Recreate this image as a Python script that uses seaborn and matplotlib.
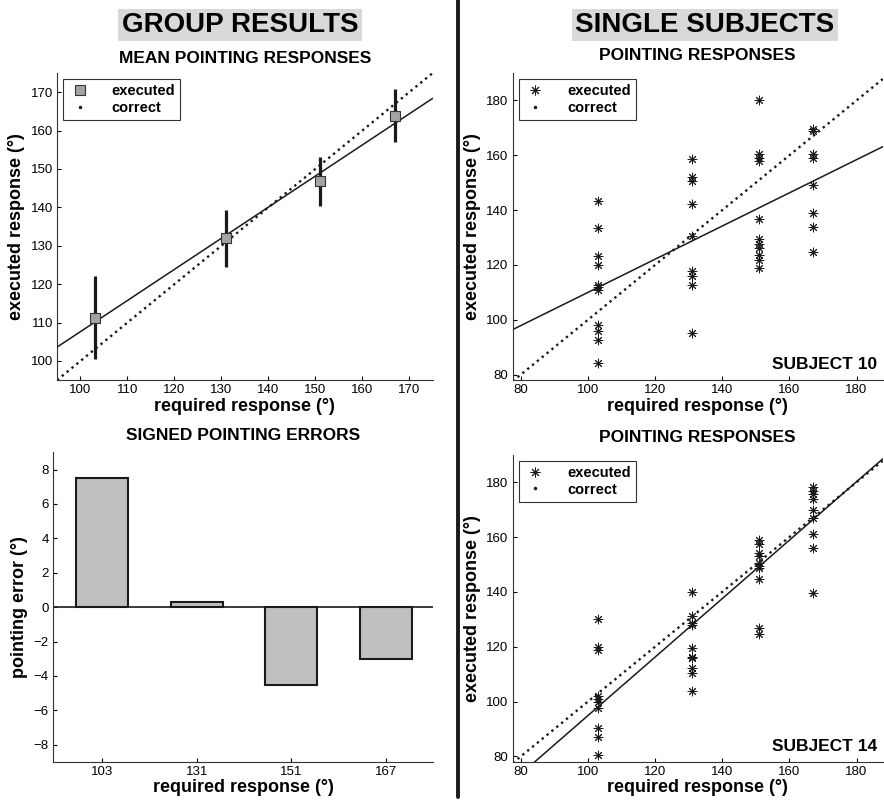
import numpy as np
import pandas as pd
import matplotlib
matplotlib.use('Agg')
import matplotlib.pyplot as plt
from matplotlib.lines import Line2D
import seaborn as sns

# required pointing directions (deg)
required = [103, 131, 151, 167]

# group results: mean executed response and spread
group_mean = [111.2, 131.9, 146.8, 163.9]
group_low = [100.5, 124.4, 140.4, 157.0]
group_high = [122.1, 139.4, 153.0, 170.8]
group_slope, group_icpt = 0.81, 26.65

# signed pointing errors (deg)
signed_error = [7.5, 0.3, -4.5, -3.0]

# single subjects, executed responses at each required direction
subj10_resp = [
    [143.2, 133.3, 123.2, 120.1, 112.8, 112.0, 111.0, 98.2, 95.8, 92.8, 84.3],
    [158.8, 152.0, 150.5, 142.3, 130.5, 117.7, 116.1, 112.8, 95.2],
    [180.0, 160.3, 159.1, 157.8, 136.6, 129.3, 127.8, 126.2, 123.8, 121.7, 118.9],
    [169.7, 168.8, 160.3, 159.1, 149.3, 138.8, 133.9, 124.8],
]
subj10_slope, subj10_icpt = 0.605, 49.5

subj14_resp = [
    [130.2, 119.9, 118.9, 102.2, 101.0, 100.0, 97.6, 90.3, 86.9, 80.6],
    [140.1, 131.3, 128.6, 128.0, 119.5, 116.4, 115.8, 112.2, 110.4, 104.0],
    [158.9, 157.5, 154.1, 152.9, 150.7, 149.5, 148.6, 144.6, 126.8, 124.6],
    [178.4, 176.9, 175.7, 173.9, 169.9, 166.8, 161.0, 156.1, 139.7],
]
subj14_slope, subj14_icpt = 1.066, -11.7

sns.set_theme(style='ticks')
plt.rcParams['font.family'] = ['Liberation Sans', 'DejaVu Sans']
plt.rcParams['axes.edgecolor'] = '#333333'
plt.rcParams['axes.linewidth'] = 0.8
for key in ['text.color', 'axes.labelcolor', 'xtick.color', 'ytick.color']:
    plt.rcParams[key] = 'black'

LABEL = dict(fontsize=13, fontweight='bold')
TITLE = dict(fontsize=12.5, fontweight='bold')


def style_axes(ax):
    sns.despine(ax=ax)
    ax.tick_params(direction='in', length=3, width=0.8, labelsize=9.5, pad=3)


def legend_box(ax, handles, labels):
    leg = ax.legend(handles, labels, loc='upper left', frameon=True, fancybox=False,
                    framealpha=1, edgecolor='#333333', borderaxespad=0.4,
                    handlelength=1.6, handletextpad=1.4, borderpad=0.35,
                    labelspacing=0.2, prop=dict(size=10.5, weight='bold'))
    leg.get_frame().set_linewidth(0.8)


def subject_panel(ax, resp, slope, icpt, name):
    rows = []
    for req, vals in zip(required, resp):
        for v in vals:
            rows.append((req, v))
    df = pd.DataFrame(rows, columns=['required', 'executed'])
    xlim = (77.6, 187.8)
    ax.set_xlim(xlim)
    ax.set_ylim(78, 190)
    xs = np.array(xlim)
    sns.lineplot(x=xs, y=xs, ax=ax, color='k', linestyle=':', linewidth=1.7)
    sns.lineplot(x=xs, y=icpt + slope * xs, ax=ax, color='k', linewidth=1.1)
    sns.scatterplot(data=df, x='required', y='executed', ax=ax, marker=(8, 2, 0),
                    s=40, color='#1a1a1a', linewidth=0.7, zorder=5)
    ax.set_xticks(range(80, 181, 20))
    ax.set_yticks(range(80, 181, 20))
    style_axes(ax)
    ax.set_ylabel('executed response (°)', labelpad=4, **LABEL)
    ax.set_xlabel('required response (°)', labelpad=1, **LABEL)
    ax.set_title('POINTING RESPONSES', pad=9, **TITLE)
    ax.text(0.985, 0.025, name, transform=ax.transAxes, ha='right', va='bottom',
            fontsize=12.5, fontweight='bold')
    h = [Line2D([], [], marker=(8, 2, 0), ls='none', color='#1a1a1a', ms=7, mew=0.7),
         Line2D([], [], marker='.', ls='none', color='k', ms=3)]
    legend_box(ax, h, ['executed', 'correct'])


fig = plt.figure(figsize=(8.84, 8.02), dpi=100)
ax_tl = fig.add_axes([0.0645, 0.526, 0.425, 0.383])
ax_bl = fig.add_axes([0.060, 0.050, 0.430, 0.386])
ax_tr = fig.add_axes([0.580, 0.526, 0.4186, 0.383])
ax_br = fig.add_axes([0.580, 0.050, 0.4186, 0.383])

# group mean responses
ax = ax_tl
ax.set_xlim(95, 175)
ax.set_ylim(95, 175)
xs = np.array([95, 175])
sns.lineplot(x=xs, y=xs, ax=ax, color='k', linestyle=':', linewidth=1.7)
sns.lineplot(x=xs, y=group_icpt + group_slope * xs, ax=ax, color='k', linewidth=1.1)
ax.vlines(required, group_low, group_high, color='k', linewidth=2.3, zorder=4)
sns.scatterplot(x=required, y=group_mean, ax=ax, marker='s', s=48, color='#a3a3a3',
                edgecolor='#333333', linewidth=0.8, zorder=5)
ax.set_xticks(range(100, 171, 10))
ax.set_yticks(range(100, 171, 10))
style_axes(ax)
ax.set_xlabel('required response (°)', labelpad=1, **LABEL)
ax.set_ylabel('executed response (°)', labelpad=4, **LABEL)
ax.set_title('MEAN POINTING RESPONSES', pad=7, **TITLE)
h = [Line2D([], [], marker='s', ls='none', color='#a3a3a3', mec='#333333', ms=6.5, mew=0.8),
     Line2D([], [], marker='.', ls='none', color='k', ms=3)]
legend_box(ax, h, ['executed', 'correct'])

# signed errors
ax = ax_bl
err_df = pd.DataFrame({'required': [str(r) for r in required], 'error': signed_error})
sns.barplot(data=err_df, x='required', y='error', ax=ax, color='#c0c0c0', saturation=1,
            edgecolor='k', linewidth=1.5, width=0.55)
ax.axhline(0, color='k', linewidth=1.2)
ax.set_xlim(-0.52, 3.5)
ax.set_ylim(-9, 9)
ax.set_yticks(range(-8, 9, 2))
style_axes(ax)
ax.set_xlabel('required response (°)', labelpad=1, **LABEL)
ax.set_ylabel('pointing error (°)', labelpad=4, **LABEL)
ax.set_title('SIGNED POINTING ERRORS', pad=9, **TITLE)

subject_panel(ax_tr, subj10_resp, subj10_slope, subj10_icpt, 'SUBJECT 10')
subject_panel(ax_br, subj14_resp, subj14_slope, subj14_icpt, 'SUBJECT 14')

# section headers
box = dict(boxstyle='square,pad=0.12', facecolor='#d9d9d9', edgecolor='none')
fig.text(0.2715, 0.969, 'GROUP RESULTS', ha='center', va='center', fontsize=20,
         fontweight='bold', bbox=box)
fig.text(0.797, 0.969, 'SINGLE SUBJECTS', ha='center', va='center', fontsize=20,
         fontweight='bold', bbox=box)
fig.add_artist(Line2D([0.518, 0.518], [0.006, 1.0], color='k', linewidth=2.8,
                      transform=fig.transFigure))

fig.savefig('out.png', dpi=100)
